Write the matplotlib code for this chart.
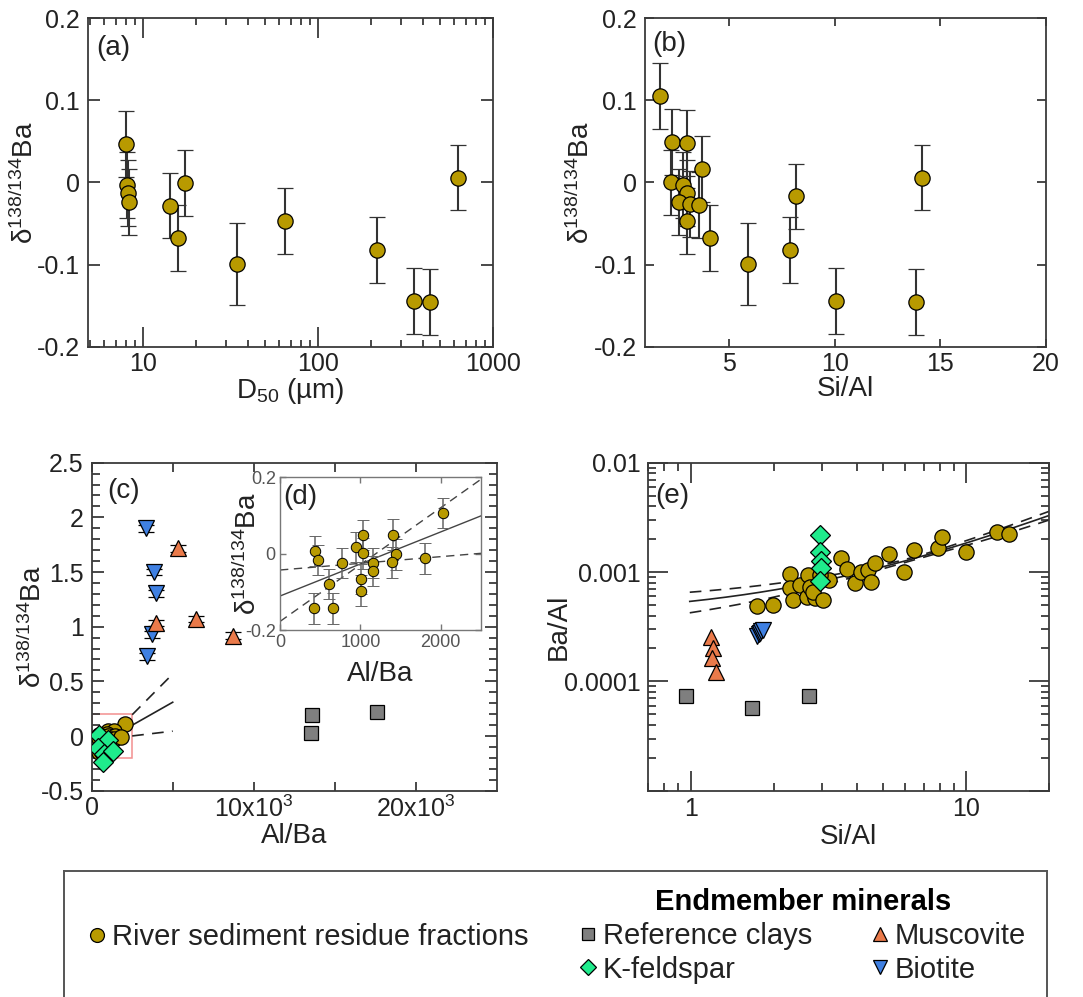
import matplotlib
matplotlib.use("Agg")
import numpy as np
import matplotlib.pyplot as plt
from matplotlib.lines import Line2D
from matplotlib.patches import Rectangle
from matplotlib.ticker import (FixedLocator, NullFormatter, FuncFormatter,
                               LogLocator, MultipleLocator)

plt.rcParams["font.family"] = ["Liberation Sans", "DejaVu Sans"]
plt.rcParams["mathtext.fontset"] = "custom"
plt.rcParams["mathtext.rm"] = "Liberation Sans"
plt.rcParams["mathtext.it"] = "Liberation Sans:italic"
plt.rcParams["mathtext.bf"] = "Liberation Sans:bold"

# ---------------- data ----------------
# (a) grain size vs delta
d50_um = [8.0, 8.1, 8.2, 8.3, 14.2, 15.9, 17.3, 34.3, 64.6, 216, 352, 438, 631]
delta_a = [0.047, -0.003, -0.013, -0.024, -0.028, -0.067, -0.001, -0.099,
           -0.047, -0.082, -0.144, -0.145, 0.006]
err_a = [0.04, 0.04, 0.04, 0.04, 0.04, 0.04, 0.04, 0.05, 0.04, 0.04, 0.04, 0.04, 0.04]

# (b) Si/Al vs delta
si_al_b = [1.71, 2.27, 2.98, 2.22, 2.78, 3.00, 2.62, 3.13, 3.54, 2.98, 3.70,
           4.10, 5.90, 7.89, 8.17, 10.05, 13.86, 14.13]
delta_b = [0.105, 0.049, 0.048, 0.000, -0.003, -0.013, -0.024, -0.026, -0.027,
           -0.047, 0.016, -0.067, -0.099, -0.082, -0.017, -0.144, -0.145, 0.006]
err_b = [0.04, 0.04, 0.04, 0.04, 0.04, 0.04, 0.04, 0.04, 0.04, 0.04, 0.04,
         0.04, 0.05, 0.04, 0.04, 0.04, 0.04, 0.04]

# (c)/(d) river sediment residues: Al/Ba vs delta
al_ba_river = [2025, 1028, 1400, 940, 437, 475, 766, 1036, 1443, 1160, 1160,
               1395, 1805, 609, 1008, 1004, 423, 653]
delta_river = [0.106, 0.049, 0.050, 0.017, 0.007, -0.017, -0.025, 0.001, -0.002,
               -0.024, -0.045, -0.023, -0.012, -0.080, -0.066, -0.097, -0.143, -0.143]
err_river = [0.04] * 18

# (c) endmember minerals
al_ba_clay = [13600, 13550, 17600]
delta_clay = [0.192, 0.024, 0.223]
al_ba_kfs = [430, 990, 410, 740, 1300, 700]
delta_kfs = [0.01, -0.04, -0.11, -0.16, -0.14, -0.24]
al_ba_musc = [5310, 3940, 6430, 8730]
delta_musc = [1.716, 1.035, 1.072, 0.917]
al_ba_biot = [3340, 3845, 3979, 3711, 3391]
delta_biot = [1.90, 1.50, 1.305, 0.93, 0.73]
err_mineral = 0.03

# regression of delta on Al/Ba (solid) with slope bounds through the centroid (dashed)
fit_d_intercept = -0.111
fit_d_slope = 8.4e-5
fit_d_x0 = 1025
fit_d_slope_hi = 1.49e-4
fit_d_slope_lo = 1.75e-5

# (e) Si/Al vs Ba/Al
si_al_river_e = [1.735, 1.985, 2.283, 2.295, 2.35, 2.48, 2.63, 2.66, 2.70, 2.81,
                 2.77, 3.02, 3.18, 2.94, 3.52, 3.68, 3.94, 4.13, 4.40, 4.50,
                 4.66, 5.25, 5.95, 6.48, 7.87, 8.18, 10.0, 12.9, 14.3]
ba_al_river_e = [4.92e-4, 4.99e-4, 9.6e-4, 7.1e-4, 5.55e-4, 7.6e-4, 5.95e-4,
                 9.4e-4, 7.3e-4, 5.75e-4, 6.6e-4, 5.55e-4, 8.45e-4, 9.4e-4,
                 1.33e-3, 1.06e-3, 8.0e-4, 1.0e-3, 1.04e-3, 8.05e-4, 1.22e-3,
                 1.46e-3, 1.0e-3, 1.59e-3, 1.65e-3, 2.1e-3, 1.53e-3, 2.34e-3, 2.23e-3]
si_al_clay_e = [0.959, 1.664, 2.68]
ba_al_clay_e = [7.4e-5, 5.66e-5, 7.4e-5]
si_al_kfs_e = [2.94, 2.95, 2.97, 2.96, 2.94]
ba_al_kfs_e = [2.18e-3, 1.53e-3, 1.25e-3, 1.1e-3, 8.2e-4]
si_al_musc_e = [1.18, 1.206, 1.19, 1.23]
ba_al_musc_e = [2.56e-4, 2.0e-4, 1.62e-4, 1.23e-4]
si_al_biot_e = [1.74, 1.76, 1.78, 1.80, 1.82]
ba_al_biot_e = [2.62e-4, 2.7e-4, 2.78e-4, 2.86e-4, 2.92e-4]

# linear regression Ba/Al = a + b*Si/Al and its confidence band
fit_e_intercept = 3.95e-4
fit_e_slope = 1.45e-4
band_e_w0 = 4.0e-5
band_e_k = 2.13e-5
band_e_xm = 6.05
fit_e_range = (0.99, 20)

# ---------------- style ----------------
RIVER = "#B89A00"
CLAY = "#7F7F7F"
KFS = "#1FEB8C"
MUSC = "#EA7A4A"
BIOT = "#3F80E2"
FRAME = "#3a3a3a"
TEXT = "#222222"
BAR = "#333333"

W, H = 1083, 997
fig = plt.figure(figsize=(W / 100, H / 100), dpi=100)


def box(left, top, right, bottom):
    return [left / W, 1 - bottom / H, (right - left) / W, (bottom - top) / H]


def pt(px):
    return px * 0.72


def fmt_g(v, p):
    if abs(v) < 1e-9:
        return "0"
    return "%g" % round(v, 6)


def frame(ax, lw=1.3, color=FRAME):
    for s in ax.spines.values():
        s.set_color(color)
        s.set_linewidth(lw)
    ax.tick_params(which="both", direction="in", top=True, right=True,
                   color=color, width=lw, labelsize=18, labelcolor=TEXT)


DELTA = r"δ$^{\mathrm{138/134}}$Ba"

# ---------------- (a) ----------------
ax_a = fig.add_axes(box(88, 18, 493, 347))
frame(ax_a)
ax_a.errorbar(d50_um, delta_a, yerr=err_a, fmt="o", ms=11, mfc=RIVER, mec="k",
              mew=0.9, ecolor=BAR, elinewidth=1.5, capsize=6, capthick=1.5, zorder=3)
ax_a.set_xscale("log")
ax_a.set_xlim(4.85, 1000)
ax_a.set_ylim(-0.2, 0.2)
ax_a.xaxis.set_major_locator(FixedLocator([10, 100, 1000]))
ax_a.xaxis.set_major_formatter(FuncFormatter(lambda v, p: "%d" % v))
ax_a.xaxis.set_minor_locator(LogLocator(base=10, subs=np.arange(2, 10)))
ax_a.xaxis.set_minor_formatter(NullFormatter())
ax_a.yaxis.set_major_locator(MultipleLocator(0.1))
ax_a.yaxis.set_major_formatter(FuncFormatter(fmt_g))
ax_a.tick_params(axis="x", which="major", length=pt(20), pad=pt(5))
ax_a.tick_params(axis="x", which="minor", length=pt(7))
ax_a.tick_params(axis="y", which="major", length=pt(12), pad=pt(8))
ax_a.set_xlabel(r"D$_{\mathrm{50}}$ (µm)", fontsize=20, color=TEXT)
ax_a.xaxis.set_label_coords(0.5, -0.088)
ax_a.set_ylabel(DELTA, fontsize=20, color=TEXT)
ax_a.yaxis.set_label_coords(-0.12, 0.5)
ax_a.text(0.02, 0.909, "(a)", transform=ax_a.transAxes, fontsize=20,
          color=TEXT, ha="left", va="center")

# ---------------- (b) ----------------
ax_b = fig.add_axes(box(645, 18, 1046, 347))
frame(ax_b)
ax_b.errorbar(si_al_b, delta_b, yerr=err_b, fmt="o", ms=11, mfc=RIVER, mec="k",
              mew=0.9, ecolor=BAR, elinewidth=1.5, capsize=6, capthick=1.5, zorder=3)
ax_b.set_xlim(1, 20)
ax_b.set_ylim(-0.2, 0.2)
ax_b.xaxis.set_major_locator(FixedLocator([5, 10, 15, 20]))
ax_b.yaxis.set_major_locator(MultipleLocator(0.1))
ax_b.yaxis.set_major_formatter(FuncFormatter(fmt_g))
ax_b.tick_params(axis="x", which="major", length=pt(8), pad=pt(5))
ax_b.tick_params(axis="y", which="major", length=pt(9), pad=pt(8))
ax_b.set_xlabel("Si/Al", fontsize=20, color=TEXT)
ax_b.xaxis.set_label_coords(0.5, -0.088)
ax_b.set_ylabel(DELTA, fontsize=20, color=TEXT)
ax_b.yaxis.set_label_coords(-0.125, 0.5)
ax_b.text(0.017, 0.922, "(b)", transform=ax_b.transAxes, fontsize=20,
          color=TEXT, ha="left", va="center")

# ---------------- (c) ----------------
ax_c = fig.add_axes(box(91.7, 462.7, 496.7, 790.7))
frame(ax_c)
ax_c.set_xlim(0, 25000)
ax_c.set_ylim(-0.5, 2.5)
ax_c.add_patch(Rectangle((0, -0.2), 2500, 0.4, fill=False, ec="#F29090",
                         lw=1.1, zorder=1.5))
xc = np.array([2500, 5000])
ax_c.plot(xc, fit_d_intercept + fit_d_slope * xc, color="#222", lw=1.2, zorder=2)
yc0 = fit_d_intercept + fit_d_slope * fit_d_x0
for s in (fit_d_slope_hi, fit_d_slope_lo):
    ax_c.plot(xc, yc0 + s * (xc - fit_d_x0), color="#222", lw=1.2,
              dashes=(7, 5), zorder=2)
ax_c.plot(al_ba_river, delta_river, "o", ms=11, mfc=RIVER, mec="k", mew=0.9, zorder=3)
ax_c.plot(al_ba_kfs, delta_kfs, "D", ms=10, mfc=KFS, mec="k", mew=0.9, zorder=4)
ax_c.errorbar(al_ba_clay, delta_clay, yerr=err_mineral, fmt="s", ms=10, mfc=CLAY,
              mec="k", mew=0.9, ecolor="k", elinewidth=1.2, capsize=5, capthick=1.2,
              zorder=4)
ax_c.errorbar(al_ba_biot, delta_biot, yerr=err_mineral, fmt="v", ms=12, mfc=BIOT,
              mec="k", mew=0.9, ecolor="k", elinewidth=1.2, capsize=6, capthick=1.2,
              zorder=4)
ax_c.errorbar(al_ba_musc, delta_musc, yerr=err_mineral, fmt="^", ms=12, mfc=MUSC,
              mec="k", mew=0.9, ecolor="k", elinewidth=1.2, capsize=6, capthick=1.2,
              zorder=5)
ax_c.xaxis.set_major_locator(FixedLocator([0, 10000, 20000]))
ax_c.xaxis.set_major_formatter(FuncFormatter(
    lambda v, p: "0" if v == 0 else r"%dx10$^{\mathrm{3}}$" % (v / 1000)))
ax_c.xaxis.set_minor_locator(FixedLocator([5000, 15000]))
ax_c.yaxis.set_major_locator(MultipleLocator(0.5))
ax_c.yaxis.set_minor_locator(MultipleLocator(0.1))
ax_c.yaxis.set_major_formatter(FuncFormatter(fmt_g))
ax_c.tick_params(axis="x", which="both", length=pt(9), pad=pt(5))
ax_c.tick_params(axis="y", which="major", length=pt(12), pad=pt(8))
ax_c.tick_params(axis="y", which="minor", length=pt(8))
ax_c.set_xlabel("Al/Ba", fontsize=20, color=TEXT)
ax_c.xaxis.set_label_coords(0.5, -0.098)
ax_c.set_ylabel(DELTA, fontsize=20, color=TEXT)
ax_c.yaxis.set_label_coords(-0.11, 0.5)
ax_c.text(0.038, 0.914, "(c)", transform=ax_c.transAxes, fontsize=20,
          color=TEXT, ha="left", va="center")

# ---------------- (d) inset ----------------
ax_d = fig.add_axes(box(280, 477.3, 481, 630))
for s in ax_d.spines.values():
    s.set_color("#777777")
    s.set_linewidth(1.0)
ax_d.tick_params(which="both", direction="in", top=True, right=True, color="#777777",
                 width=1.0, length=4, labelsize=13, labelcolor="#555555", pad=3)
ax_d.set_xlim(0, 2500)
ax_d.set_ylim(-0.2, 0.2)
xd = np.array([0, 2500])
ax_d.plot(xd, fit_d_intercept + fit_d_slope * xd, color="#444", lw=1.0, zorder=2)
for s in (fit_d_slope_hi, fit_d_slope_lo):
    ax_d.plot(xd, yc0 + s * (xd - fit_d_x0), color="#444", lw=1.0,
              dashes=(6, 4), zorder=2)
ax_d.errorbar(al_ba_river, delta_river, yerr=err_river, fmt="o", ms=7.5, mfc=RIVER,
              mec="k", mew=0.7, ecolor="#666666", elinewidth=1.1, capsize=4,
              capthick=1.1, zorder=3)
ax_d.xaxis.set_major_locator(FixedLocator([0, 1000, 2000]))
ax_d.yaxis.set_major_locator(FixedLocator([-0.2, 0, 0.2]))
ax_d.yaxis.set_major_formatter(FuncFormatter(fmt_g))
ax_d.set_xlabel("Al/Ba", fontsize=20, color=TEXT)
ax_d.xaxis.set_label_coords(0.5, -0.2)
ax_d.set_ylabel(DELTA, fontsize=20, color=TEXT)
ax_d.yaxis.set_label_coords(-0.09, 0.5)
ax_d.text(0.015, 0.868, "(d)", transform=ax_d.transAxes, fontsize=20,
          color=TEXT, ha="left", va="center")

# ---------------- (e) ----------------
ax_e = fig.add_axes(box(648.3, 462.7, 1049.3, 790.7))
frame(ax_e)
ax_e.set_xscale("log")
ax_e.set_yscale("log")
ax_e.set_xlim(0.7, 20)
ax_e.set_ylim(1e-5, 1e-2)
xe = np.geomspace(fit_e_range[0], fit_e_range[1], 200)
ye = fit_e_intercept + fit_e_slope * xe
we = np.sqrt(band_e_w0 ** 2 + (band_e_k * (xe - band_e_xm)) ** 2)
ax_e.plot(xe, ye, color="#222", lw=1.2, zorder=2)
ax_e.plot(xe, ye + we, color="#222", lw=1.2, dashes=(7, 5), zorder=2)
ax_e.plot(xe, ye - we, color="#222", lw=1.2, dashes=(7, 5), zorder=2)
ax_e.plot(si_al_river_e, ba_al_river_e, "o", ms=11, mfc=RIVER, mec="k", mew=0.9, zorder=3)
ax_e.plot(si_al_kfs_e, ba_al_kfs_e, "D", ms=10, mfc=KFS, mec="k", mew=0.9, zorder=4)
ax_e.plot(si_al_clay_e, ba_al_clay_e, "s", ms=10, mfc=CLAY, mec="k", mew=0.9, zorder=4)
ax_e.plot(si_al_biot_e, ba_al_biot_e, "v", ms=12, mfc=BIOT, mec="k", mew=0.9, zorder=4)
ax_e.plot(si_al_musc_e, ba_al_musc_e, "^", ms=12, mfc=MUSC, mec="k", mew=0.9, zorder=4)
ax_e.xaxis.set_major_locator(FixedLocator([1, 10]))
ax_e.xaxis.set_major_formatter(FuncFormatter(lambda v, p: "%d" % v))
ax_e.xaxis.set_minor_locator(LogLocator(base=10, subs=np.arange(2, 10)))
ax_e.xaxis.set_minor_formatter(NullFormatter())
ax_e.yaxis.set_major_locator(FixedLocator([1e-5, 1e-4, 1e-3, 1e-2]))
ax_e.yaxis.set_major_formatter(FuncFormatter(
    lambda v, p: "" if v < 5e-5 else "%g" % v))
ax_e.yaxis.set_minor_locator(LogLocator(base=10, subs=np.arange(2, 10)))
ax_e.yaxis.set_minor_formatter(NullFormatter())
ax_e.tick_params(which="major", length=pt(20))
ax_e.tick_params(axis="x", which="major", pad=pt(6))
ax_e.tick_params(axis="y", which="major", pad=pt(8))
ax_e.tick_params(which="minor", length=pt(8))
ax_e.set_xlabel("Si/Al", fontsize=20, color=TEXT)
ax_e.xaxis.set_label_coords(0.5, -0.1)
ax_e.set_ylabel("Ba/Al", fontsize=20, color=TEXT)
ax_e.yaxis.set_label_coords(-0.19, 0.5)
ax_e.text(0.017, 0.90, "(e)", transform=ax_e.transAxes, fontsize=20,
          color=TEXT, ha="left", va="center")

# ---------------- legend panel ----------------
ax_l = fig.add_axes(box(64, 871, 1047, 1030))
ax_l.set_xticks([])
ax_l.set_yticks([])
ax_l.patch.set_alpha(0)
for name, s in ax_l.spines.items():
    s.set_color("#555555")
    s.set_linewidth(1.4)
ax_l.spines["bottom"].set_visible(False)

LEG_FS = 21


def handle(marker, color, ms):
    return Line2D([], [], ls="none", marker=marker, ms=ms, mfc=color, mec="k", mew=0.9)


fig.legend(handles=[handle("o", RIVER, 10)], labels=["River sediment residue fractions"],
           loc="center left", bbox_to_anchor=(89.7 / W, 1 - 937 / H), frameon=False,
           borderpad=0, borderaxespad=0, handlelength=0.5, handletextpad=0.26,
           fontsize=LEG_FS, labelcolor=TEXT)

fig.legend(handles=[handle("s", CLAY, 9), handle("D", KFS, 8.5),
                    handle("^", MUSC, 10), handle("v", BIOT, 10)],
           labels=["Reference clays", "K-feldspar", "Muscovite", "Biotite"],
           ncol=2, loc="upper left", bbox_to_anchor=(580.7 / W, 1 - 888 / H),
           frameon=False, borderpad=0, borderaxespad=0, handlelength=0.5,
           handletextpad=0.26, columnspacing=2.08, labelspacing=0.2,
           fontsize=LEG_FS, labelcolor=TEXT, title="Endmember minerals",
           title_fontproperties={"weight": "bold", "size": LEG_FS})

fig.savefig("out.png", dpi=100)
